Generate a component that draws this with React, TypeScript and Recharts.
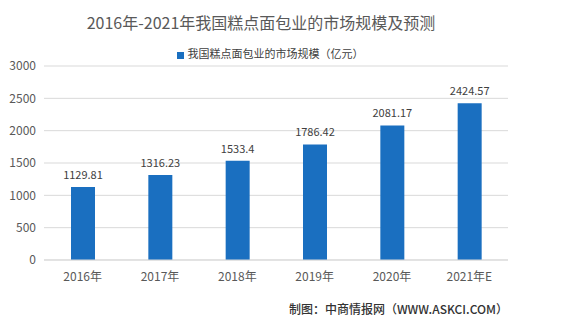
import { BarChart, Bar, XAxis, YAxis, CartesianGrid, Legend, LabelList } from 'recharts';

const years = ['2016年', '2017年', '2018年', '2019年', '2020年', '2021年E'];
const marketSize = [1129.81, 1316.23, 1533.4, 1786.42, 2081.17, 2424.57];
const yTicks = [0, 500, 1000, 1500, 2000, 2500, 3000];

const chartData = years.map((year, i) => ({ year, value: marketSize[i] }));

const FONT = '"Noto Sans CJK SC", "Noto Sans", sans-serif';

export default function App() {
    return (
        <div style={{ position: 'absolute', left: 0, top: 0, width: 576, height: 326, background: '#fff', fontFamily: FONT }}>
            <div style={{ position: 'absolute', top: 10, left: 0, width: 522, textAlign: 'center', fontSize: 16, color: '#595959' }}>
                2016年-2021年我国糕点面包业的市场规模及预测
            </div>
            <BarChart width={576} height={326} data={chartData} margin={{ top: 50, right: 68, bottom: 36, left: 0 }}>
                <CartesianGrid vertical={false} stroke="#d9d9d9" />
                <XAxis
                    dataKey="year"
                    tickLine={false}
                    tickSize={0}
                    tickMargin={12}
                    height={30}
                    axisLine={{ stroke: '#d9d9d9' }}
                    tick={{ fill: '#595959', fontSize: 12, fontFamily: FONT }}
                />
                <YAxis
                    width={44}
                    domain={[0, 3000]}
                    ticks={yTicks}
                    tickLine={false}
                    axisLine={false}
                    tickSize={0}
                    tickMargin={8}
                    tick={{ fill: '#595959', fontSize: 12, fontFamily: FONT }}
                />
                <Legend
                    verticalAlign="top"
                    align="center"
                    iconType="square"
                    iconSize={7}
                    wrapperStyle={{ top: 45, left: 0, width: 550, fontSize: 11, fontFamily: FONT }}
                    formatter={(v) => <span style={{ color: '#404040' }}>{v}</span>}
                />
                <Bar dataKey="value" name="我国糕点面包业的市场规模（亿元）" fill="#1a6fc0" barSize={24} isAnimationActive={false}>
                    <LabelList dataKey="value" position="top" offset={8} fill="#404040" fontSize={11} fontFamily={FONT} />
                </Bar>
            </BarChart>
            <div style={{ position: 'absolute', top: 300, right: 68, fontSize: 12, color: '#333', fontWeight: 500 }}>
                制图：中商情报网（WWW.ASKCI.COM）
            </div>
        </div>
    );
}
